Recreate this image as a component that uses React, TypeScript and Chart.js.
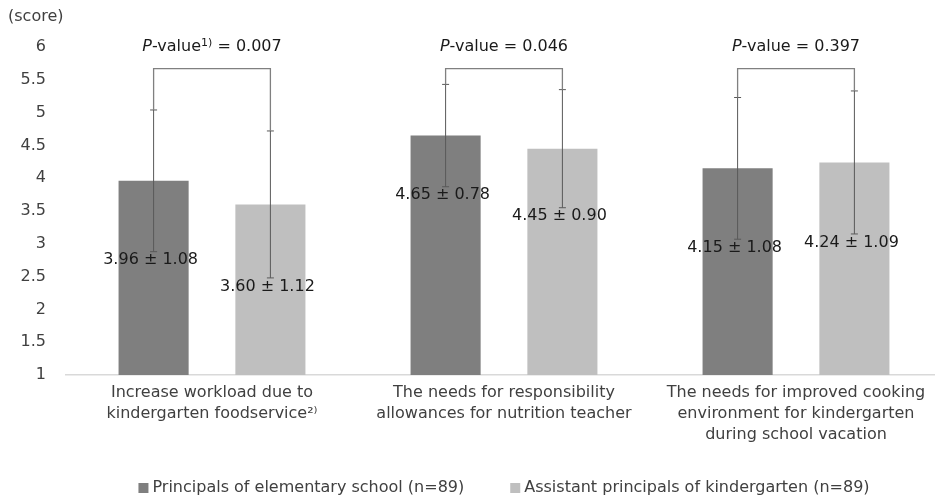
import React, { useEffect, useRef } from "react";
import { Chart, registerables } from "chart.js";

Chart.register(...registerables);

// ---------- data ----------
const categories: string[][] = [
  ["Increase workload due to", "kindergarten foodservice²⁾"],
  ["The needs for responsibility", "allowances for nutrition teacher"],
  ["The needs for improved cooking", "environment for kindergarten", "during school vacation"],
];
const seriesNames = [
  "Principals of elementary school (n=89)",
  "Assistant principals of kindergarten (n=89)",
];
const principalMeans = [3.96, 4.65, 4.15];
const principalSDs = [1.08, 0.78, 1.08];
const assistantMeans = [3.6, 4.45, 4.24];
const assistantSDs = [1.12, 0.9, 1.09];
const pValues = ["0.007", "0.046", "0.397"];
const pFootnotes = ["1)", "", ""];
const bracketLevel = 5.67;
const yMin = 1;
const yMax = 6;
const yStep = 0.5;
const yTitle = "(score)";
const seriesColors = ["#7f7f7f", "#bfbfbf"];

const FONT = "'DejaVu Sans', sans-serif";
const means = [principalMeans, assistantMeans];
const sds = [principalSDs, assistantSDs];

const overlayPlugin = {
  id: "overlay",
  afterDatasetsDraw(chart: any) {
    const ctx = chart.ctx as CanvasRenderingContext2D;
    const yS = chart.scales.y;
    const area = chart.chartArea;
    ctx.save();

    const tops: number[][] = [[], []];
    // error bars + value labels
    for (let d = 0; d < 2; d++) {
      const meta = chart.getDatasetMeta(d);
      meta.data.forEach((el: any, j: number) => {
        const m = means[d][j];
        const s = sds[d][j];
        const x = el.x;
        const yT = yS.getPixelForValue(m + s);
        const yB = yS.getPixelForValue(m - s);
        tops[d][j] = yT;
        ctx.strokeStyle = "#595959";
        ctx.lineWidth = 1;
        ctx.beginPath();
        ctx.moveTo(x, yT);
        ctx.lineTo(x, yB);
        ctx.moveTo(x - 3.5, yT);
        ctx.lineTo(x + 3.5, yT);
        ctx.moveTo(x - 3.5, yB);
        ctx.lineTo(x + 3.5, yB);
        ctx.stroke();
        ctx.fillStyle = "#1a1a1a";
        ctx.font = `16px ${FONT}`;
        ctx.textAlign = "center";
        ctx.textBaseline = "middle";
        ctx.fillText(`${m.toFixed(2)} ± ${s.toFixed(2)}`, x - 3, yB + 8.5);
      });
    }

    // brackets + p-values
    const m0 = chart.getDatasetMeta(0);
    const m1 = chart.getDatasetMeta(1);
    const yb = yS.getPixelForValue(bracketLevel);
    for (let j = 0; j < categories.length; j++) {
      const x1 = m0.data[j].x;
      const x2 = m1.data[j].x;
      ctx.strokeStyle = "#808080";
      ctx.lineWidth = 1.3;
      ctx.beginPath();
      ctx.moveTo(x1, tops[0][j]);
      ctx.lineTo(x1, yb);
      ctx.lineTo(x2, yb);
      ctx.lineTo(x2, tops[1][j]);
      ctx.stroke();

      const cx = (x1 + x2) / 2;
      const ty = yb - 22;
      const italic = `italic 16px ${FONT}`;
      const normal = `16px ${FONT}`;
      const small = `11px ${FONT}`;
      const partP = "P";
      const partA = "-value";
      const partF = pFootnotes[j];
      const partB = ` = ${pValues[j]}`;
      ctx.font = italic;
      const wP = ctx.measureText(partP).width;
      ctx.font = normal;
      const wA = ctx.measureText(partA).width;
      const wB = ctx.measureText(partB).width;
      ctx.font = small;
      const wF = partF ? ctx.measureText(partF).width : 0;
      let x = cx - (wP + wA + wF + wB) / 2;
      ctx.fillStyle = "#1a1a1a";
      ctx.textAlign = "left";
      ctx.textBaseline = "middle";
      ctx.font = italic;
      ctx.fillText(partP, x, ty);
      x += wP;
      ctx.font = normal;
      ctx.fillText(partA, x, ty);
      x += wA;
      if (partF) {
        ctx.font = small;
        ctx.fillText(partF, x, ty - 4);
        x += wF;
      }
      ctx.font = normal;
      ctx.fillText(partB, x, ty);
    }

    // y title
    ctx.font = `16px ${FONT}`;
    ctx.fillStyle = "#404040";
    ctx.textAlign = "left";
    ctx.textBaseline = "middle";
    ctx.fillText(yTitle, 8, 17);

    // legend
    ctx.font = `16px ${FONT}`;
    const box = 10;
    const gapBox = 4;
    const gapItem = 46;
    const widths = seriesNames.map((n) => ctx.measureText(n).width);
    const total = widths.reduce((a, w) => a + box + gapBox + w, 0) + gapItem;
    let lx = (area.left + area.right) / 2 - total / 2;
    const ly = 488;
    seriesNames.forEach((n, i) => {
      ctx.fillStyle = seriesColors[i];
      ctx.fillRect(lx, ly - box / 2, box, box);
      lx += box + gapBox;
      ctx.fillStyle = "#404040";
      ctx.fillText(n, lx, ly);
      lx += widths[i] + gapItem;
    });

    ctx.restore();
  },
};

export default function App() {
  const ref = useRef<HTMLCanvasElement | null>(null);
  useEffect(() => {
    if (!ref.current) return;
    const chart = new Chart(ref.current, {
      type: "bar",
      data: {
        labels: categories,
        datasets: [
          {
            label: seriesNames[0],
            data: principalMeans,
            backgroundColor: seriesColors[0],
            categoryPercentage: 0.8,
            barPercentage: 0.6,
          },
          {
            label: seriesNames[1],
            data: assistantMeans,
            backgroundColor: seriesColors[1],
            categoryPercentage: 0.8,
            barPercentage: 0.6,
          },
        ],
      },
      options: {
        animation: false,
        responsive: true,
        maintainAspectRatio: false,
        layout: { padding: { top: 47, right: 3, bottom: 0, left: 0 } },
        plugins: { legend: { display: false }, tooltip: { enabled: false } },
        scales: {
          x: {
            grid: { display: false, drawTicks: false },
            border: { display: true, color: "#d9d9d9", width: 1.5 },
            ticks: {
              font: { family: FONT, size: 16, lineHeight: 1.3 },
              color: "#404040",
              padding: 7.5,
              maxRotation: 0,
              autoSkip: false,
            },
            afterFit: (s: any) => {
              s.height = 125;
            },
          },
          y: {
            min: yMin,
            max: yMax,
            ticks: {
              stepSize: yStep,
              font: { family: FONT, size: 16 },
              color: "#404040",
              padding: 20,
              callback: (v: any) => String(Number(v)),
            },
            grid: { display: false, drawTicks: false },
            border: { display: false },
            afterFit: (s: any) => {
              s.width = 66;
            },
          },
        },
      },
      plugins: [overlayPlugin],
    });
    return () => chart.destroy();
  }, []);

  return (
    <div style={{ position: "fixed", left: 0, top: 0, width: 935, height: 500, overflow: "hidden", background: "#fff" }}>
      <div style={{ position: "relative", width: 945, height: 500 }}>
        <canvas ref={ref} />
      </div>
    </div>
  );
}
